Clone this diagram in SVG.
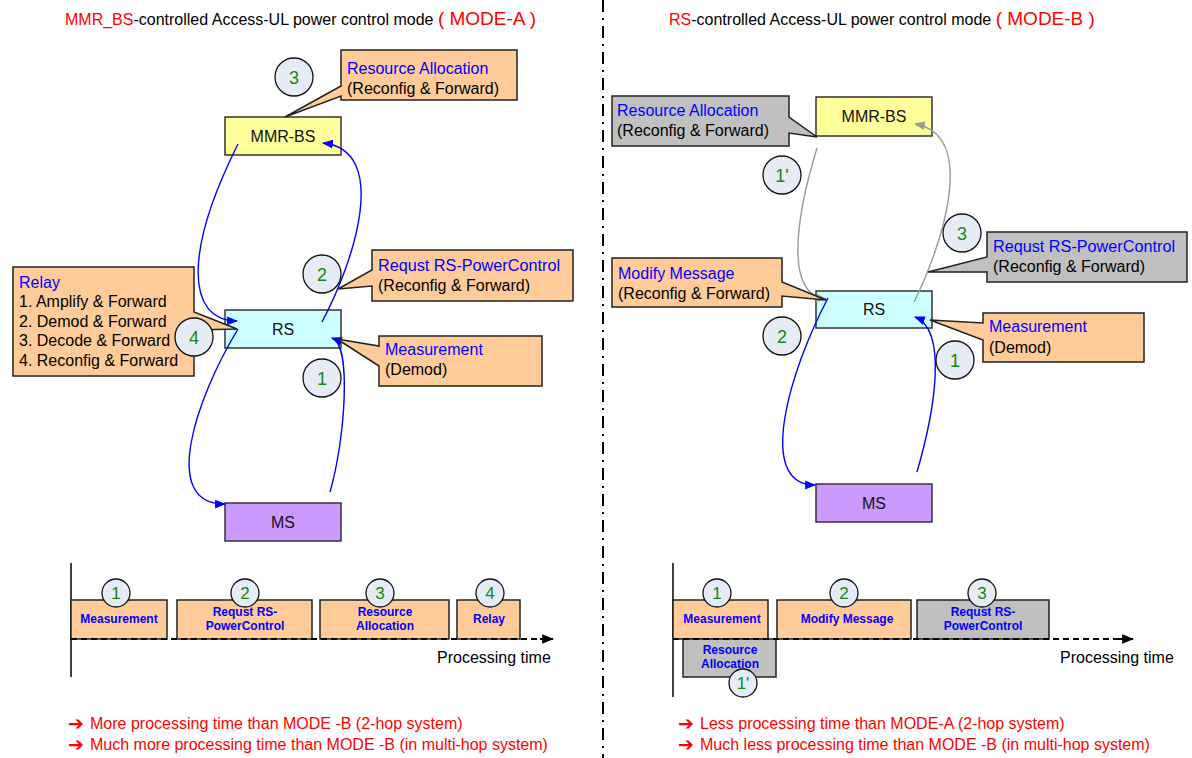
<svg xmlns="http://www.w3.org/2000/svg" width="1192" height="758" viewBox="0 0 1192 758">
<defs>
<style>
text{font-family:"Liberation Sans",Arial,sans-serif;}
.t16{font-size:16px;fill:#000;}
.blue{fill:#0000FF;}
.red{fill:#FF0000;}
.node{stroke:#333;stroke-width:1.5;}
.callo{fill:#FFCC99;stroke:#222;stroke-width:1.5;}
.callg{fill:#C0C0C0;stroke:#222;stroke-width:1.5;}
.circ{fill:#E6ECF6;stroke:#111;stroke-width:1.3;}
.num{font-size:18px;fill:#108A10;text-anchor:middle;}
.numS{font-size:17px;fill:#108A10;text-anchor:middle;}
.lbl{font-size:16px;fill:#111;text-anchor:middle;}
.tb{font-size:12px;font-weight:bold;fill:#0000FF;text-anchor:middle;}
.cb{fill:none;stroke:#0000FF;stroke-width:1.4;}
.cg{fill:none;stroke:#999;stroke-width:1.4;}
.tbox{fill:#FFCC99;stroke:#222;stroke-width:1.5;}
.tboxg{fill:#C0C0C0;stroke:#222;stroke-width:1.5;}
.axis{stroke:#000;stroke-width:1.5;fill:none;}
.dash{stroke:#000;stroke-width:2;stroke-dasharray:6,4;fill:none;}
.arr{font-family:"DejaVu Sans",sans-serif;font-size:19px;font-weight:bold;fill:#FF0000;}
</style>
<marker id="ab" viewBox="0 0 10 10" refX="9" refY="5" markerWidth="11" markerHeight="11" markerUnits="userSpaceOnUse" orient="auto">
<path d="M0,1 L10,5 L0,9 Z" fill="#0000FF"/>
</marker>
<marker id="ag" viewBox="0 0 10 10" refX="9" refY="5" markerWidth="11" markerHeight="11" markerUnits="userSpaceOnUse" orient="auto">
<path d="M0,1 L10,5 L0,9 Z" fill="#999"/>
</marker>
<marker id="ak" viewBox="0 0 10 10" refX="9" refY="5" markerWidth="12" markerHeight="12" markerUnits="userSpaceOnUse" orient="auto">
<path d="M0,1 L10,5 L0,9 Z" fill="#000"/>
</marker>
</defs>
<rect width="1192" height="758" fill="#fff"/>

<!-- titles -->
<text x="65" y="25" class="t16" font-size="16.4"><tspan class="red">MMR_BS</tspan>-controlled Access-UL power control mode <tspan class="red" font-size="19">( MODE-A )</tspan></text>
<text x="669" y="25" class="t16" font-size="16.4"><tspan class="red">RS</tspan>-controlled Access-UL power control mode <tspan class="red" font-size="19">( MODE-B )</tspan></text>

<!-- divider -->
<line x1="603" y1="0" x2="603" y2="758" stroke="#000" stroke-width="2" stroke-dasharray="12,6,2,6"/>

<!-- left nodes -->
<g id="l-mmrbs"><rect x="225" y="117" width="116" height="38" class="node" fill="#FFFF99"/><text x="283" y="142" class="lbl">MMR-BS</text></g>
<g id="l-rs"><rect x="225" y="310" width="116" height="38" class="node" fill="#CCFFFF"/><text x="283" y="335" class="lbl">RS</text></g>
<g id="l-ms"><rect x="225" y="503" width="116" height="38" class="node" fill="#CC99FF"/><text x="283" y="528" class="lbl">MS</text></g>

<!-- right nodes -->
<g id="r-mmrbs"><rect x="816" y="97" width="116" height="39" class="node" fill="#FFFF99"/><text x="874" y="122" class="lbl">MMR-BS</text></g>
<g id="r-rs"><rect x="816" y="291" width="116" height="37" class="node" fill="#CCFFFF"/><text x="874" y="315" class="lbl">RS</text></g>
<g id="r-ms"><rect x="816" y="484" width="116" height="38" class="node" fill="#CC99FF"/><text x="874" y="509" class="lbl">MS</text></g>

<!-- connectors -->
<g id="connectors">
<path class="cb" d="M238,144 C185,250 185,320 237,321" marker-end="url(#ab)"/>
<path class="cb" d="M322,322 C355,260 390,150 323,143" marker-end="url(#ab)"/>
<path class="cb" d="M330,492 C345,440 352,345 332,338" marker-end="url(#ab)"/>
<path class="cb" d="M238,329 C195,400 160,505 225,504" marker-end="url(#ab)"/>
<path class="cg" d="M817,148 C795,220 785,295 826,299" marker-end="url(#ag)"/>
<path class="cb" d="M828,298 C790,370 755,485 815,485" marker-end="url(#ab)"/>
<path class="cb" d="M917,472 C935,410 948,330 915,317" marker-end="url(#ab)"/>
<path class="cg" d="M914,302 C940,250 980,135 915,124" marker-end="url(#ag)"/>
</g>

<!-- left callouts -->
<g id="l-call-ra">
<path class="callo" d="M341,50 H517 V100 H341 V96 L285,117 L341,86 Z"/>
<text x="347" y="74" class="t16 blue">Resource Allocation</text>
<text x="347" y="94" class="t16">(Reconfig &amp; Forward)</text>
</g>
<g id="l-call-req">
<path class="callo" d="M372,250 H573 V301 H372 V286 L338,289 L372,270 Z"/>
<text x="378" y="271" class="t16 blue" textLength="182" lengthAdjust="spacingAndGlyphs">Requst RS-PowerControl</text>
<text x="378" y="291" class="t16">(Reconfig &amp; Forward)</text>
</g>
<g id="l-call-meas">
<path class="callo" d="M379,336 H542 V386 H379 V366 L337,339 L379,346 Z"/>
<text x="385" y="355" class="t16 blue">Measurement</text>
<text x="385" y="375" class="t16">(Demod)</text>
</g>
<g id="l-call-relay">
<path class="callo" d="M13,267 H194 V312 L237,329 L194,330 V376 H13 Z"/>
<text x="19" y="288" class="t16 blue">Relay</text>
<text x="19" y="307" class="t16">1. Amplify &amp; Forward</text>
<text x="19" y="327" class="t16">2. Demod &amp; Forward</text>
<text x="19" y="346" class="t16">3. Decode &amp; Forward</text>
<text x="19" y="366" class="t16">4. Reconfig &amp; Forward</text>
</g>

<!-- right callouts -->
<g id="r-call-ra">
<path class="callg" d="M612,96 H789 V117 L817,137 L789,133 V146 H612 Z"/>
<text x="617" y="116" class="t16 blue">Resource Allocation</text>
<text x="617" y="136" class="t16">(Reconfig &amp; Forward)</text>
</g>
<g id="r-call-mod">
<path class="callo" d="M612,258 H782 V282 L826,300 L782,296 V307 H612 Z"/>
<text x="618" y="279" class="t16 blue">Modify Message</text>
<text x="618" y="299" class="t16">(Reconfig &amp; Forward)</text>
</g>
<g id="r-call-req">
<path class="callg" d="M987,232 H1187 V282 H987 V272 L928,272 L987,257 Z"/>
<text x="993" y="252" class="t16 blue" textLength="182" lengthAdjust="spacingAndGlyphs">Requst RS-PowerControl</text>
<text x="993" y="272" class="t16">(Reconfig &amp; Forward)</text>
</g>
<g id="r-call-meas">
<path class="callo" d="M983,313 H1144 V362 H983 V340 L930,320 L983,323 Z"/>
<text x="989" y="332" class="t16 blue">Measurement</text>
<text x="989" y="353" class="t16">(Demod)</text>
</g>

<!-- step circles -->
<g id="l-step3"><circle cx="294" cy="77" r="19" class="circ"/><text x="294" y="84" class="num">3</text></g>
<g id="l-step2"><circle cx="322" cy="274" r="19" class="circ"/><text x="322" y="281" class="num">2</text></g>
<g id="l-step1"><circle cx="322" cy="378" r="19" class="circ"/><text x="322" y="385" class="num">1</text></g>
<g id="l-step4"><circle cx="194" cy="337" r="19" class="circ"/><text x="194" y="344" class="num">4</text></g>
<g id="r-step1p"><circle cx="782" cy="175" r="19" class="circ"/><text x="782" y="182" class="num">1'</text></g>
<g id="r-step3"><circle cx="962" cy="233" r="19" class="circ"/><text x="962" y="240" class="num">3</text></g>
<g id="r-step2"><circle cx="782" cy="336" r="19" class="circ"/><text x="782" y="343" class="num">2</text></g>
<g id="r-step1"><circle cx="955" cy="360" r="19" class="circ"/><text x="955" y="367" class="num">1</text></g>

<!-- left timeline -->
<g id="l-timeline">
<line x1="71" y1="563" x2="71" y2="677" class="axis"/>
<rect x="71" y="600" width="96" height="39" class="tbox"/>
<rect x="177" y="600" width="135" height="39" class="tbox"/>
<rect x="320" y="600" width="129" height="39" class="tbox"/>
<rect x="457" y="600" width="63" height="39" class="tbox"/>
<path d="M71,639 H542" class="dash"/>
<line x1="540" y1="639" x2="553" y2="639" stroke="#000" stroke-width="2" marker-end="url(#ak)"/>
<text x="119" y="623" class="tb">Measurement</text>
<text x="245" y="616" class="tb">Requst RS-</text>
<text x="245" y="630" class="tb">PowerControl</text>
<text x="385" y="616" class="tb">Resource</text>
<text x="385" y="630" class="tb">Allocation</text>
<text x="489" y="623" class="tb">Relay</text>
<circle cx="116" cy="593" r="14" class="circ"/><text x="116" y="599" class="numS">1</text>
<circle cx="245" cy="593" r="14" class="circ"/><text x="245" y="599" class="numS">2</text>
<circle cx="380" cy="593" r="14" class="circ"/><text x="380" y="599" class="numS">3</text>
<circle cx="490" cy="593" r="14" class="circ"/><text x="490" y="599" class="numS">4</text>
<text x="437" y="663" class="t16">Processing time</text>
</g>

<!-- right timeline -->
<g id="r-timeline">
<line x1="673" y1="563" x2="673" y2="697" class="axis"/>
<rect x="673" y="600" width="95" height="39" class="tbox"/>
<rect x="777" y="600" width="134" height="39" class="tbox"/>
<rect x="917" y="600" width="132" height="39" class="tboxg"/>
<rect x="683" y="639" width="93" height="38" class="tboxg"/>
<path d="M673,639 H1120" class="dash"/>
<line x1="1118" y1="639" x2="1133" y2="639" stroke="#000" stroke-width="2" marker-end="url(#ak)"/>
<text x="722" y="623" class="tb">Measurement</text>
<text x="847" y="623" class="tb">Modify Message</text>
<text x="983" y="616" class="tb">Requst RS-</text>
<text x="983" y="630" class="tb">PowerControl</text>
<text x="730" y="654" class="tb">Resource</text>
<text x="730" y="668" class="tb">Allocation</text>
<circle cx="717" cy="593" r="14" class="circ"/><text x="717" y="599" class="numS">1</text>
<circle cx="844" cy="593" r="14" class="circ"/><text x="844" y="599" class="numS">2</text>
<circle cx="982" cy="593" r="14" class="circ"/><text x="982" y="599" class="numS">3</text>
<circle cx="743" cy="683" r="14" class="circ"/><text x="743" y="689" class="numS">1'</text>
<text x="1060" y="663" class="t16">Processing time</text>
</g>

<!-- conclusions -->
<g id="l-notes">
<text x="68" y="730" class="arr">➔</text>
<text x="90" y="729" class="t16 red">More processing time than MODE -B (2-hop system)</text>
<text x="68" y="751" class="arr">➔</text>
<text x="90" y="750" class="t16 red">Much more processing time than MODE -B (in multi-hop system)</text>
</g>
<g id="r-notes">
<text x="678" y="730" class="arr">➔</text>
<text x="700" y="729" class="t16 red">Less processing time than MODE-A (2-hop system)</text>
<text x="678" y="751" class="arr">➔</text>
<text x="700" y="750" class="t16 red">Much less processing time than MODE -B (in multi-hop system)</text>
</g>
</svg>
